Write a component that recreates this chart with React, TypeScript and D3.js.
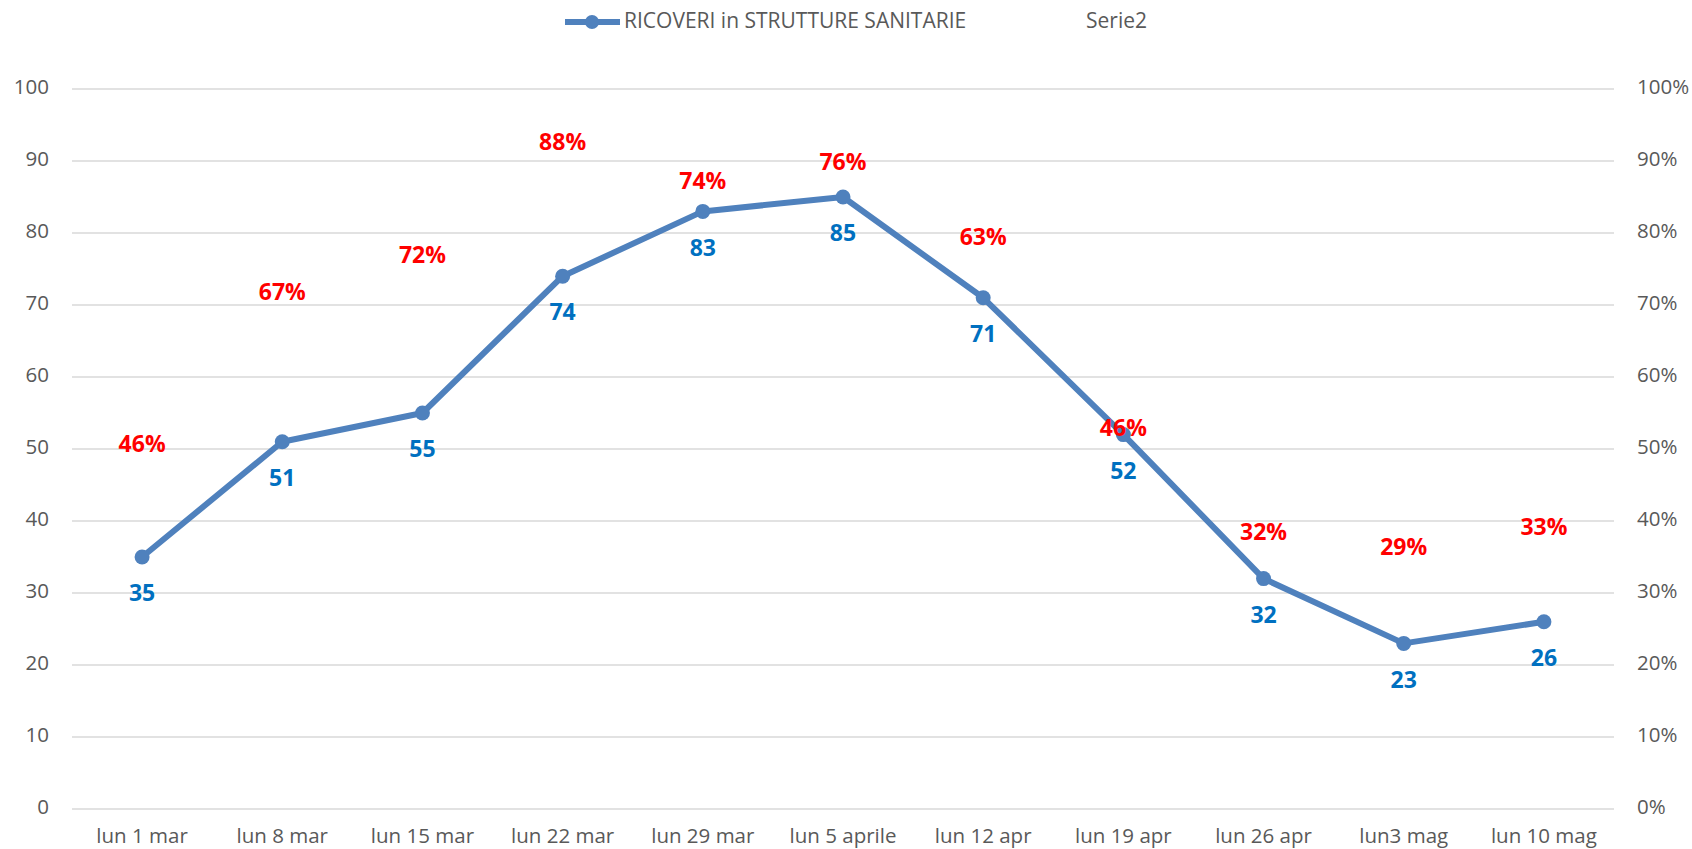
import * as d3 from "d3";

const categories = [
  "lun 1 mar",
  "lun 8 mar",
  "lun 15 mar",
  "lun 22 mar",
  "lun 29 mar",
  "lun 5 aprile",
  "lun 12 apr",
  "lun 19 apr",
  "lun 26 apr",
  "lun3 mag",
  "lun 10 mag",
];

// RICOVERI in STRUTTURE SANITARIE
const ricoveri = [35, 51, 55, 74, 83, 85, 71, 52, 32, 23, 26];

// Serie2: percent labels, and where each label sits on the secondary axis
const serie2 = [46, 67, 72, 88, 74, 76, 63, 46, 32, 29, 33];
const serie2LabelPos = [0.504, 0.716, 0.767, 0.924, 0.87, 0.896, 0.792, 0.526, 0.382, 0.361, 0.389];

const leftTicks = [0, 10, 20, 30, 40, 50, 60, 70, 80, 90, 100];
const rightTicks = [0, 0.1, 0.2, 0.3, 0.4, 0.5, 0.6, 0.7, 0.8, 0.9, 1];

const W = 1692;
const H = 849;
const plot = { left: 72, right: 1614, top: 89, bottom: 809 };
const font = "'Open Sans', sans-serif";
const lineColor = "#4f81bd";

const Chart = () => {
  const x = d3
    .scaleBand()
    .domain(categories)
    .range([plot.left, plot.right]);
  const cx = (c: string) => (x(c) ?? 0) + x.bandwidth() / 2;

  const y = d3.scaleLinear().domain([0, 100]).range([plot.bottom, plot.top]);
  const y2 = d3.scaleLinear().domain([0, 1]).range([plot.bottom, plot.top]);

  const line = d3
    .line<number>()
    .x((_, i) => cx(categories[i]))
    .y((d) => y(d));

  const pct = d3.format(".0%");

  return (
    <svg width={W} height={H} style={{ display: "block", background: "#fff" }}>
      {/* Legend */}
      <g>
        <line x1={565} x2={620} y1={22} y2={22} stroke={lineColor} strokeWidth={6} />
        <circle cx={592} cy={22} r={7} fill={lineColor} />
        <text x={624} y={22} dominantBaseline="middle" fontSize={21} fontFamily={font} fill="#595959">
          RICOVERI in STRUTTURE SANITARIE
        </text>
        <text x={1086} y={22} dominantBaseline="middle" fontSize={21} fontFamily={font} fill="#595959">
          Serie2
        </text>
      </g>

      {/* Gridlines */}
      {leftTicks.map((t) => (
        <line
          key={t}
          x1={plot.left}
          x2={plot.right}
          y1={y(t)}
          y2={y(t)}
          stroke="#d9d9d9"
          strokeWidth={1.5}
        />
      ))}

      {/* Left axis labels */}
      {leftTicks.map((t) => (
        <text
          key={t}
          x={49}
          y={y(t)}
          textAnchor="end"
          dominantBaseline="middle"
          fontSize={20.5}
          fontFamily={font}
          fill="#595959"
        >
          {t}
        </text>
      ))}

      {/* Right axis labels */}
      {rightTicks.map((t) => (
        <text
          key={t}
          x={1637}
          y={y2(t)}
          dominantBaseline="middle"
          fontSize={20.5}
          fontFamily={font}
          fill="#595959"
        >
          {pct(t)}
        </text>
      ))}

      {/* Category labels */}
      {categories.map((c) => (
        <text
          key={c}
          x={cx(c)}
          y={843}
          textAnchor="middle"
          fontSize={20.5}
          fontFamily={font}
          fill="#595959"
        >
          {c}
        </text>
      ))}

      {/* Line + markers */}
      <path d={line(ricoveri) ?? ""} fill="none" stroke={lineColor} strokeWidth={6} strokeLinejoin="round" />
      {ricoveri.map((v, i) => (
        <circle key={i} cx={cx(categories[i])} cy={y(v)} r={7.5} fill={lineColor} />
      ))}

      {/* Blue value labels */}
      {ricoveri.map((v, i) => (
        <text
          key={i}
          x={cx(categories[i])}
          y={y(v) + 38}
          textAnchor="middle"
          dominantBaseline="middle"
          fontSize={23}
          fontWeight="bold"
          fontFamily={font}
          fill="#0070c0"
        >
          {v}
        </text>
      ))}

      {/* Red percent labels (Serie2) */}
      {serie2.map((v, i) => (
        <text
          key={i}
          x={cx(categories[i])}
          y={y2(serie2LabelPos[i])}
          textAnchor="middle"
          dominantBaseline="middle"
          fontSize={23}
          fontWeight="bold"
          fontFamily={font}
          fill="#ff0000"
        >
          {v}%
        </text>
      ))}
    </svg>
  );
};

function App() {
  return (
    <div style={{ position: "fixed", left: 0, top: 0, background: "#fff" }}>
      <Chart />
    </div>
  );
}

export default App;
